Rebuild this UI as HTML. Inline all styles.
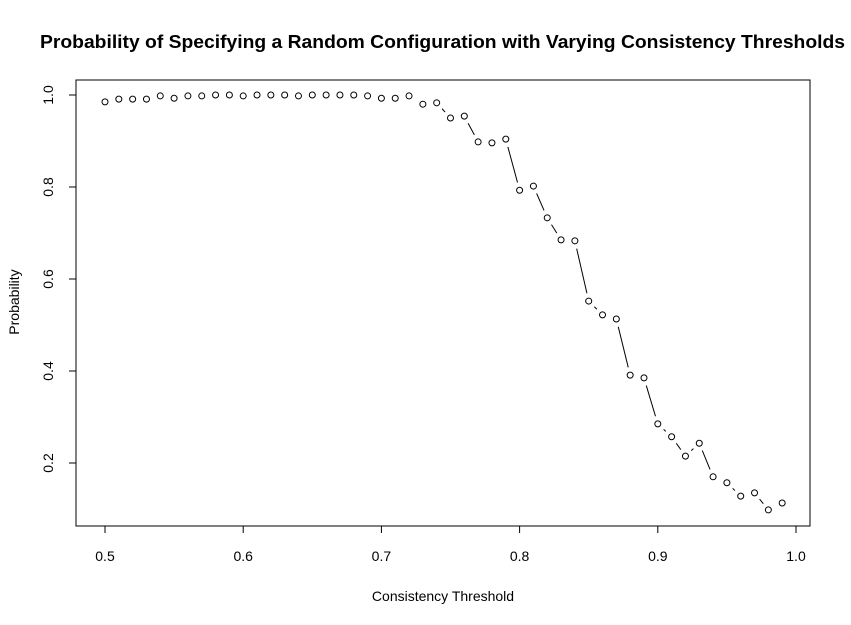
<!DOCTYPE html>
<html><head><meta charset="utf-8"><style>
body{margin:0;background:#fff;}
svg{font-family:"Liberation Sans",Arial,sans-serif;display:block;}
</style></head><body>
<svg id="chart" width="851" height="625">
<text x="40" y="48" font-size="18.5" font-weight="bold" textLength="805" lengthAdjust="spacingAndGlyphs">Probability of Specifying a Random Configuration with Varying Consistency Thresholds</text>
<rect x="76" y="80" width="734" height="446" fill="none" stroke="#000"/>
<text x="443" y="601" text-anchor="middle" font-size="14">Consistency Threshold</text>
<text transform="translate(19,302) rotate(-90)" text-anchor="middle" font-size="14">Probability</text>
<g id="axes"></g>
<g id="marks"></g>
</svg>
<script>
const xTicks=[0.5,0.6,0.7,0.8,0.9,1.0];
const xTickLabels=["0.5","0.6","0.7","0.8","0.9","1.0"];
const yTicks=[0.2,0.4,0.6,0.8,1.0];
const yTickLabels=["0.2","0.4","0.6","0.8","1.0"];
const thresholds=[0.50,0.51,0.52,0.53,0.54,0.55,0.56,0.57,0.58,0.59,0.60,0.61,0.62,0.63,0.64,0.65,0.66,0.67,0.68,0.69,0.70,0.71,0.72,0.73,0.74,0.75,0.76,0.77,0.78,0.79,0.80,0.81,0.82,0.83,0.84,0.85,0.86,0.87,0.88,0.89,0.90,0.91,0.92,0.93,0.94,0.95,0.96,0.97,0.98,0.99];
const probabilities=[0.985,0.991,0.991,0.991,0.998,0.993,0.998,0.998,1.0,1.0,0.998,1.0,1.0,1.0,0.998,1.0,1.0,1.0,1.0,0.998,0.993,0.993,0.998,0.980,0.983,0.950,0.954,0.898,0.896,0.904,0.793,0.802,0.733,0.685,0.683,0.552,0.522,0.513,0.391,0.385,0.285,0.257,0.215,0.243,0.170,0.157,0.128,0.135,0.098,0.113];
const NS="http://www.w3.org/2000/svg";
const xs=v=>105+(v-0.5)*1382;
const ys=v=>95+(1-v)*460;
const axes=document.getElementById('axes'),marks=document.getElementById('marks');
function mk(tag,attrs,parent){const e=document.createElementNS(NS,tag);for(const k in attrs)e.setAttribute(k,attrs[k]);parent.appendChild(e);return e;}
const xl=mk('line',{x1:xs(0.5),x2:xs(1.0),y1:526,y2:526,stroke:'#000'},axes);


xTicks.forEach((t,i)=>{
  const l=mk('line',{x1:xs(t),x2:xs(t),y1:526,y2:533,stroke:'#000'},axes);
  
  
  const tx=mk('text',{x:xs(t),y:561,'text-anchor':'middle','font-size':'14'},axes);
  tx.textContent=xTickLabels[i];
  
  
});
const yl=mk('line',{x1:76,x2:76,y1:ys(0.2),y2:ys(1.0),stroke:'#000'},axes);


yTicks.forEach((t,i)=>{
  const l=mk('line',{x1:69,x2:76,y1:ys(t),y2:ys(t),stroke:'#000'},axes);
  
  
  const tx=mk('text',{transform:`translate(53,${ys(t)}) rotate(-90)`,'text-anchor':'middle','font-size':'14'},axes);
  tx.textContent=yTickLabels[i];
  
  
});
for(let i=0;i<thresholds.length-1;i++){
  const x1=xs(thresholds[i]),y1=ys(probabilities[i]),x2=xs(thresholds[i+1]),y2=ys(probabilities[i+1]);
  const d=Math.hypot(x2-x1,y2-y1),g=8;
  if(d<=2*g+1)continue;
  const ux=(x2-x1)/d,uy=(y2-y1)/d;
  const s=mk('line',{x1:x1+ux*g,y1:y1+uy*g,x2:x2-ux*g,y2:y2-uy*g,stroke:'#000','stroke-width':'1'},marks);
  
  
}
thresholds.forEach((t,i)=>{
  const c=mk('circle',{cx:xs(t),cy:ys(probabilities[i]),r:3,fill:'none',stroke:'#000','stroke-width':'1'},marks);
  
  
});
</script>
</body></html>
